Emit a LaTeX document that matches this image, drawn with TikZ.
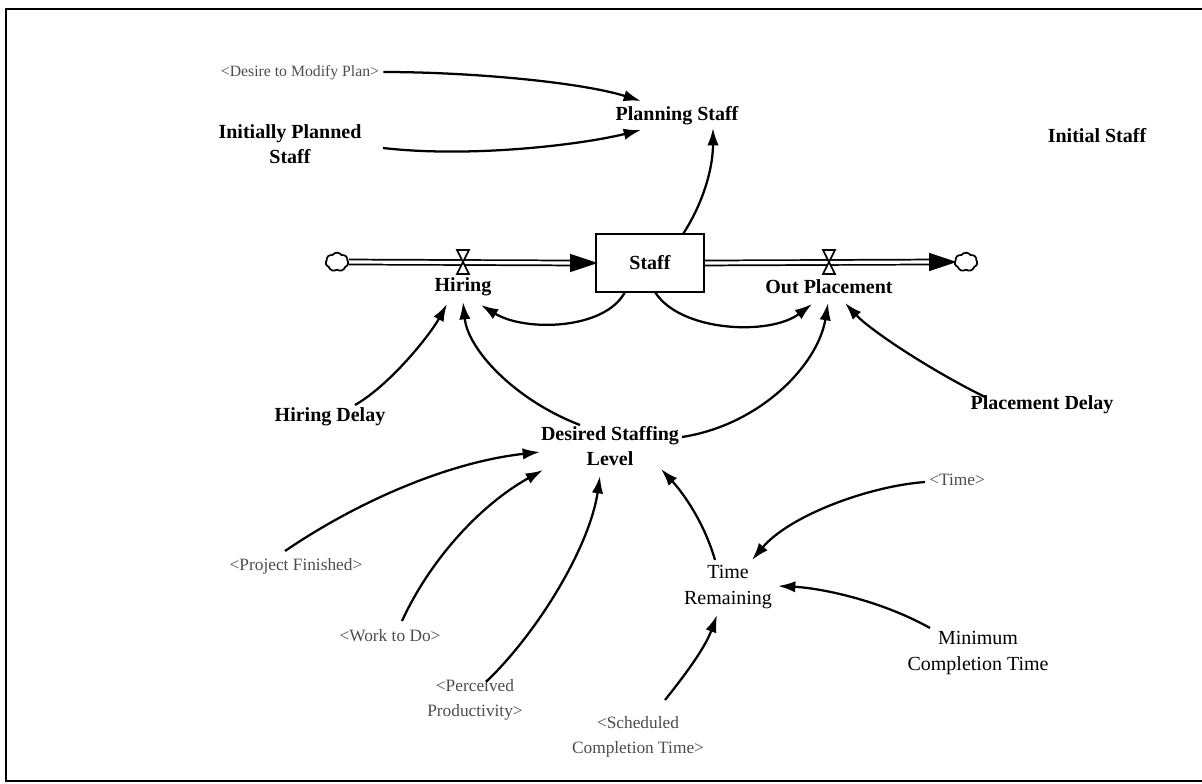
\documentclass[tikz,border=0pt]{standalone}
\usepackage{fontspec}
\setmainfont{Liberation Serif}
\usetikzlibrary{arrows.meta,shapes.symbols}

\begin{document}
\begin{tikzpicture}[x=0.75pt,y=0.75pt,
  var/.style={font=\bfseries\fontsize{15}{19}\selectfont, inner sep=1.5pt, align=center},
  plainvar/.style={font=\fontsize{15}{19}\selectfont, inner sep=1.5pt, align=center},
  shadowvar/.style={font=\fontsize{13}{19}\selectfont, text=black!70, inner sep=1.5pt, align=center},
  stockbox/.style={draw, line width=1.5pt, minimum width=81pt, minimum height=43.5pt, font=\bfseries\fontsize{15}{19}\selectfont},
  cloudnode/.style={cloud, cloud puffs=7, cloud puff arc=110, aspect=1.2, draw, line width=1.3pt, minimum width=17pt, minimum height=14pt, inner sep=0pt},
  link/.style={line width=1.7pt, -{Latex[length=13pt,width=8.5pt]}},
  pipe/.style={double, double distance=2.4pt, line width=1.3pt},
  valve/.style={draw, line width=1.2pt, fill=white},
  pipehead/.style={line width=1.3pt, fill=black},
]
\useasboundingbox (0,0) rectangle (1202,-784);

% outer frame
\draw[line width=2.2pt] (1202,-9) -- (6,-9) -- (6,-781) -- (1202,-781);

% variables
\node[var] (plan) at (677,-116) {Planning Staff};
\node[shadowvar, font=\fontsize{11.8}{19}\selectfont] (desire) at (300,-73) {<Desire to Modify Plan>};
\node[var] (ips) at (290,-144) {Initially Planned\\Staff};
\node[var] (init) at (1097,-136) {Initial Staff};
\node[stockbox] (staff) at (650,-263) {Staff};
\node[cloudnode] (src) at (337,-262) {};
\node[cloudnode] (sink) at (966,-262) {};
\node[var] (hiring) at (463,-287) {Hiring};
\node[var] (outp) at (829,-287) {Out Placement};
\node[var] (hd) at (330,-417) {Hiring Delay};
\node[var] (pd) at (1042,-405) {Placement Delay};
\node[var] (dsl) at (610,-446) {Desired Staffing\\Level};
\node[shadowvar] (time) at (957,-480) {<Time>};
\node[plainvar] (tr) at (728,-587) {Time\\Remaining};
\node[shadowvar] (pf) at (296,-566) {<Project Finished>};
\node[shadowvar] (wtd) at (390,-636) {<Work to Do>};
\node[shadowvar] (pp) at (475,-700) {<Perceived\\Productivity>};
\node[shadowvar] (sct) at (638,-737) {<Scheduled\\Completion Time>};
\node[plainvar] (mct) at (978,-653) {Minimum\\Completion Time};

% valve positions on the pipes
\coordinate (hv) at (463,-262);
\coordinate (ov) at (829,-262);

% flow pipes
\draw[pipe] (src.east) -- ([shift={(-20,0)}]staff.west);
\draw[pipehead] (staff.west) -- ++(-24,8) -- ++(0,-16) -- cycle;
\draw[pipe] (staff.east) -- ([shift={(-20,0)}]sink.west);
\draw[pipehead] (sink.west) -- ++(-24,8) -- ++(0,-16) -- cycle;

% valves
\foreach \v in {hv,ov}{
  \draw[valve] (\v) -- ++(-6,12) -- ++(12,0) -- cycle;
  \draw[valve] (\v) -- ++(-6,-12) -- ++(12,0) -- cycle;
}

% causal links (ends placed relative to node centres)
\draw[link] ([shift={(2,1)}]desire.east) .. controls (470,-72) and (580,-82) .. ([shift={(-36,15)}]plan.center);
\draw[link] ([shift={(93,-4)}]ips.center) .. controls (470,-158) and (580,-145) .. ([shift={(-36,-14)}]plan.center);
\draw[link] ([shift={(33,29)}]staff.center) .. controls (702,-205) and (713,-170) .. ([shift={(36,-12)}]plan.center);
\draw[link] ([shift={(-25,-29)}]staff.center) .. controls (605,-330) and (525,-332) .. ([shift={(18,-18)}]hiring.center);
\draw[link] ([shift={(5,-29)}]staff.center) .. controls (680,-332) and (770,-336) .. ([shift={(-17,-17)}]outp.center);
\draw[link] ([shift={(25,12)}]hd.center) .. controls (390,-385) and (430,-335) .. ([shift={(-16,-17)}]hiring.center);
\draw[link] ([shift={(-30,21)}]dsl.center) .. controls (515,-400) and (468,-350) .. ([shift={(0,-15)}]hiring.center);
\draw[link] ([shift={(72,9)}]dsl.center) .. controls (760,-425) and (818,-365) .. ([shift={(-1,-16)}]outp.center);
\draw[link] ([shift={(-57,8)}]pd.center) .. controls (930,-370) and (870,-330) .. ([shift={(16,-16)}]outp.center);
\draw[link] ([shift={(-11,15)}]pf.center) .. controls (360,-500) and (450,-462) .. ([shift={(-70,-6)}]dsl.center);
\draw[link] ([shift={(12,15)}]wtd.center) .. controls (430,-560) and (480,-505) .. ([shift={(-67,-24)}]dsl.center);
\draw[link] ([shift={(11,18)}]pp.center) .. controls (540,-630) and (590,-545) .. ([shift={(-10,-30)}]dsl.center);
\draw[link] ([shift={(-13,27)}]tr.center) .. controls (705,-525) and (685,-495) .. ([shift={(51,-23)}]dsl.center);
\draw[link] ([shift={(-2,-2)}]time.west) .. controls (870,-486) and (790,-515) .. ([shift={(24,27)}]tr.center);
\draw[link] ([shift={(-48,25)}]mct.center) .. controls (880,-600) and (820,-588) .. ([shift={(50,1)}]tr.center);
\draw[link] ([shift={(27,37)}]sct.center) .. controls (685,-675) and (705,-648) .. ([shift={(-11,-28)}]tr.center);
\end{tikzpicture}
\end{document}
